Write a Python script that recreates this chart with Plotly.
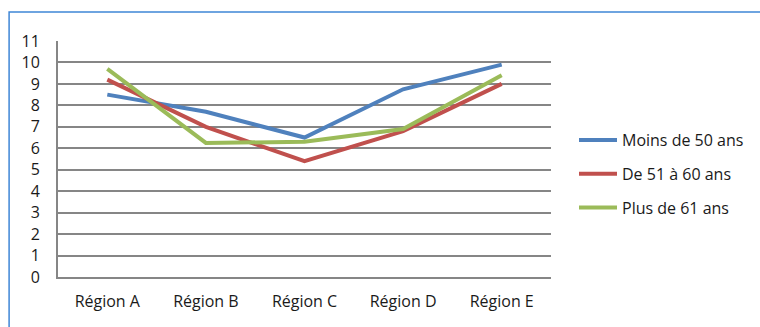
import plotly.graph_objects as go

categories = ["Région A", "Région B", "Région C", "Région D", "Région E"]
moins_50 = [8.5, 7.7, 6.5, 8.75, 9.9]
de_51_60 = [9.2, 7.0, 5.4, 6.8, 9.0]
plus_61 = [9.7, 6.25, 6.3, 6.9, 9.4]
series_names = ["Moins de 50 ans", "De 51 à 60 ans", "Plus de 61 ans"]
colors = ["#4F81BD", "#C0504D", "#9BBB59"]
y_ticks = list(range(0, 12))

W, H = 760, 327
L, R, T, B = 58, 208, 41, 50

fig = go.Figure()
for i, (name, vals) in enumerate(zip(series_names, [moins_50, de_51_60, plus_61])):
    fig.add_trace(go.Scatter(
        x=categories, y=vals, mode="lines", name=name,
        line=dict(color=colors[i], width=4),
        legendgroup=f"g{i}",
    ))

font_family = "Open Sans, Noto Sans, sans-serif"
pw = W - L - R
ph = H - T - B

fig.update_layout(
    width=W, height=H,
    margin=dict(l=L, r=R, t=T, b=B),
    paper_bgcolor="white", plot_bgcolor="white",
    font=dict(family=font_family, size=16, color="#1a1a1a"),
    showlegend=True,
    legend=dict(
        x=(574 - L) / pw, y=(277 - 123) / ph, xanchor="left", yanchor="top",
        font=dict(size=16, color="#1a1a1a"),
        tracegroupgap=10, itemwidth=38,
        bgcolor="rgba(0,0,0,0)",
    ),
    xaxis=dict(
        type="category", range=[-0.5, 4.5],
        showgrid=False, showline=True, linecolor="#868686", linewidth=2,
        ticks="", ticklabelstandoff=9, tickfont=dict(size=16),
        zeroline=False,
    ),
    yaxis=dict(
        range=[0, 11], tickvals=y_ticks,
        showgrid=True, gridcolor="#868686", gridwidth=2,
        showline=True, linecolor="#868686", linewidth=2,
        ticks="", ticklabelstandoff=13, tickfont=dict(size=16),
        zeroline=False,
    ),
    shapes=[dict(
        type="rect", xref="paper", yref="paper",
        x0=(9 - L) / pw, x1=(800 - L) / pw,
        y0=(277 - 360) / ph, y1=(277 - 12) / ph,
        line=dict(color="#3F86D6", width=1.5),
        fillcolor="rgba(0,0,0,0)", layer="below",
    )],
)

fig.write_html("out.html")
